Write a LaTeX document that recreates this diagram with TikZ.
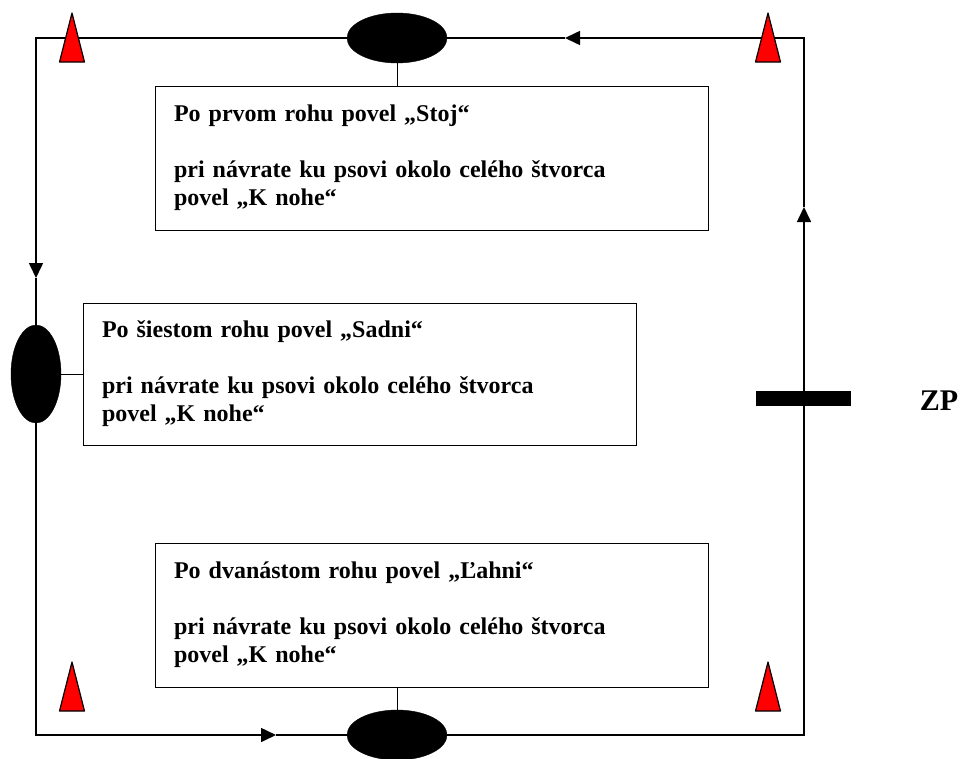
\documentclass[tikz,border=0pt]{standalone}
\usepackage{fontspec}
\setmainfont{Liberation Serif}
\usetikzlibrary{shapes.geometric, arrows.meta, positioning, calc}

\tikzset{
  track/.style={line width=1.6pt},
  dir/.style={-{Triangle[length=15pt,width=14pt]}},
  post/.style={ellipse, fill=black, draw=black, inner sep=0pt},
  cone/.style={fill=red, draw=black, line width=1.2pt, line join=round},
  cmdbox/.style={draw, line width=1pt, align=left, text width=515pt, inner xsep=19pt,
    minimum height=144pt, font=\fontsize{24}{28}\selectfont\bfseries},
}

\begin{document}
\begin{tikzpicture}[x=1pt,y=-1pt]
\useasboundingbox (0,0) rectangle (963,758);
\coordinate (tl) at (36,38);
\coordinate (tr) at (804,38);
\coordinate (bl) at (36,735);
\coordinate (br) at (804,735);
\coordinate (a1) at (565,38);
\coordinate (a2) at (36,278);
\coordinate (a3) at (276,735);
\coordinate (a4) at (804,207);
\draw[track,dir] (a4) -- (tr) -- (a1);
\draw[track,dir] (a1) -- (tl) -- (a2);
\draw[track,dir] (a2) -- (bl) -- (a3);
\draw[track,dir] (a3) -- (br) -- (a4);
\node[post, minimum width=100pt, minimum height=50pt] (ptop) at (397,38) {};
\node[post, minimum width=50pt, minimum height=98pt] (pleft) at (36,374) {};
\node[post, minimum width=100pt, minimum height=50pt] (pbot) at (397,735) {};
\node[cmdbox] (box1) at (431.5,158) {Po prvom rohu povel „Stoj“\\[28pt]
  pri návrate ku psovi okolo celého štvorca\\ povel „K nohe“};
\node[cmdbox, minimum height=142pt] (box2) at (359.5,374) {Po šiestom rohu povel „Sadni“\\[28pt]
  pri návrate ku psovi okolo celého štvorca\\ povel „K nohe“};
\node[cmdbox] (box3) at (431.5,615) {Po dvanástom rohu povel „Ľahni“\\[28pt]
  pri návrate ku psovi okolo celého štvorca\\ povel „K nohe“};
\draw[line width=1pt] (ptop.south) -- (ptop.south |- box1.north);
\draw[line width=1pt] (pleft.east) -- (box2.west);
\draw[line width=1pt] (pbot.north) -- (pbot.north |- box3.south);
\foreach \x/\y in {72/13, 768/13, 72/662, 768/662}
  \filldraw[cone] (\x,\y) -- (\x+12.5,\y+49) -- (\x-12.5,\y+49) -- cycle;
\node[fill=black, minimum width=95pt, minimum height=15pt, inner sep=0pt] (zpbar) at (803.5,398.5) {};
\node[font=\fontsize{30}{34}\selectfont\bfseries] (zp) at (939,401) {ZP};
\end{tikzpicture}
\end{document}
